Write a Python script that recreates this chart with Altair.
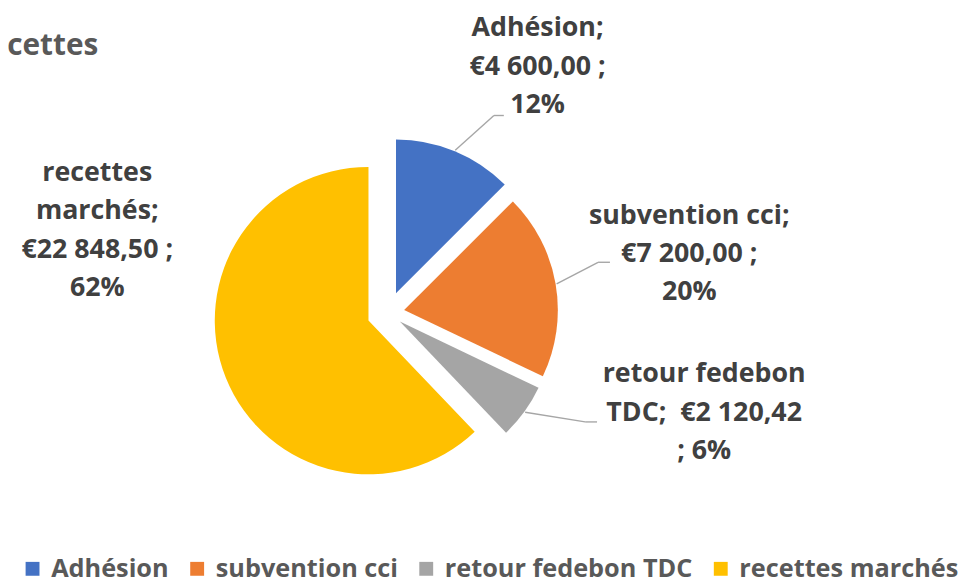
import altair as alt
import pandas as pd

# ---------------- data ----------------
categories = ["Adhésion", "subvention cci", "retour fedebon TDC", "recettes marchés"]
amounts = [4600.00, 7200.00, 2120.42, 22848.50]
label_lines = [
    ["Adhésion;", "€4 600,00 ;", "12%"],
    ["subvention cci;", "€7 200,00 ;", "20%"],
    ["retour fedebon", "TDC;\u00a0 €2 120,42", "; 6%"],
    ["recettes", "marchés;", "€22 848,50 ;", "62%"],
]
title_text = "recettes"

# ---------------- style ----------------
colors = ["#4472C4", "#ED7D31", "#A5A5A5", "#FFC000"]
W, H = 959, 573
CX, CY = 383, 305          # pie centre (px)
R = 155                    # pie radius (px)
FONT = "Open Sans"
# per-slice explosion distance (px)
explode = {"Adhésion": 21.5, "subvention cci": 16.7, "retour fedebon TDC": 15, "recettes marchés": 21}
# label anchor (centre x, first baseline y) relative to pie centre
label_pos = {
    "Adhésion": (151, -279),
    "subvention cci": (304, -90),
    "retour fedebon TDC": (319, 70),
    "recettes marchés": (-293, -133),
}
# leader line: elbow (x, y) and end x, relative to pie centre
leader = {
    "Adhésion": (107, -199, 117),
    "subvention cci": (212, -51, 224),
    "retour fedebon TDC": (199, 110, 211),
}

rows = []
for i, c in enumerate(categories):
    lx, ly = label_pos[c]
    has = c in leader
    ex, ey, fx = leader.get(c, (0, 0, 0))
    rows.append({
        "cat": c, "amount": amounts[i], "idx": i,
        "label": "\n".join(label_lines[i]),
        "explode": explode[c],
        "lx": CX + lx, "ly": CY + ly,
        "leader": has, "ex": CX + ex, "ey": CY + ey, "fx": CX + fx,
    })
df = pd.DataFrame(rows)

base = alt.Chart(df).transform_joinaggregate(
    total="sum(amount)"
).transform_window(
    cum="sum(amount)", sort=[alt.SortField("idx")], frame=[None, 0]
).transform_calculate(
    t0="2*PI*(datum.cum - datum.amount)/datum.total",
    t1="2*PI*datum.cum/datum.total",
    mid="(datum.t0 + datum.t1)/2",
    ax=f"{CX} + datum.explode*sin(datum.mid)",
    ay=f"{CY} - datum.explode*cos(datum.mid)",
    sx=f"datum.ax + {R + 1}*sin(datum.mid)",
    sy=f"datum.ay - {R + 1}*cos(datum.mid)",
)

arcs = base.mark_arc(radius=R).encode(
    x=alt.X("ax:Q", scale=None, axis=None),
    y=alt.Y("ay:Q", scale=None, axis=None),
    theta=alt.Theta("t0:Q", scale=None),
    theta2=alt.Theta2("t1:Q"),
    color=alt.Color(
        "cat:N",
        scale=alt.Scale(domain=categories, range=colors),
        legend=alt.Legend(
            orient="none", legendX=12, legendY=550, direction="horizontal",
            columns=4, title=None, symbolType="square", symbolSize=196,
            symbolStrokeWidth=0, labelFont=FONT, labelFontWeight="bold",
            labelFontSize=25.5, labelColor="#595959", labelOffset=6,
            columnPadding=15, labelLimit=500, padding=0,
        ),
    ),
    order=alt.Order("idx:Q"),
)

lead1 = base.transform_filter("datum.leader").mark_rule(
    color="#A6A6A6", strokeWidth=1.4
).encode(
    x=alt.X("sx:Q", scale=None, axis=None),
    y=alt.Y("sy:Q", scale=None, axis=None),
    x2="ex:Q", y2="ey:Q",
)
lead2 = base.transform_filter("datum.leader").mark_rule(
    color="#A6A6A6", strokeWidth=1.4
).encode(
    x=alt.X("ex:Q", scale=None, axis=None),
    y=alt.Y("ey:Q", scale=None, axis=None),
    x2="fx:Q",
)

labels = base.mark_text(
    align="center", baseline="alphabetic", font=FONT, fontWeight="bold",
    fontSize=27, color="#404040", lineBreak="\n", lineHeight=38.7,
).encode(
    x=alt.X("lx:Q", scale=None, axis=None),
    y=alt.Y("ly:Q", scale=None, axis=None),
    text="label:N",
)

title = alt.Chart(pd.DataFrame({"t": [title_text]})).mark_text(
    align="right", baseline="alphabetic", font=FONT, fontWeight="bold",
    fontSize=30, color="#595959",
).encode(x=alt.value(91), y=alt.value(45), text="t:N")

chart = alt.layer(arcs, lead1, lead2, labels, title).properties(
    width=W, height=H, padding=0, background="white",
    autosize=alt.AutoSizeParams(type="none"),
).configure_view(stroke=None)

chart.save("out.html", embed_options={"renderer": "svg", "actions": False})
